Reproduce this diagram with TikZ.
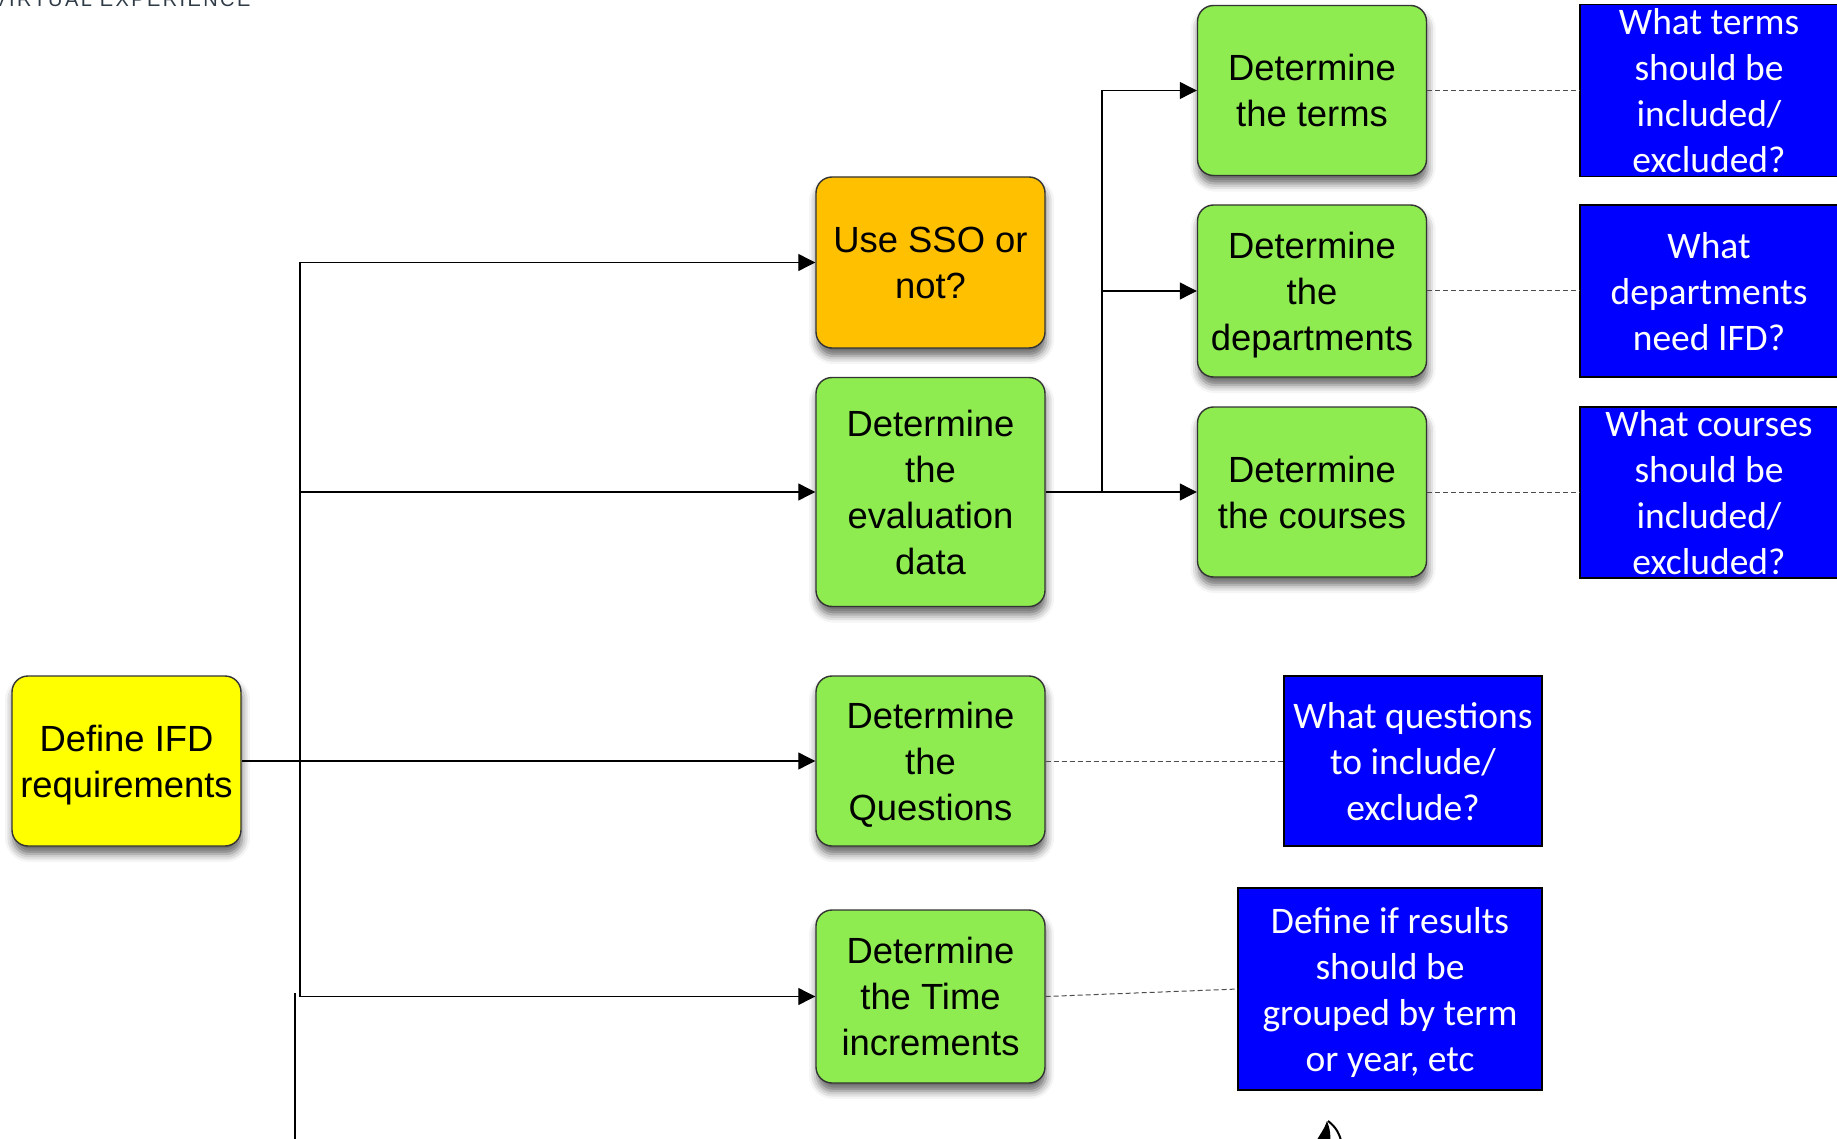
\documentclass[tikz,border=0pt]{standalone}
\usepackage{fontspec}
\setmainfont{Liberation Sans}
\newfontfamily\greenfont{Liberation Sans}
\newfontfamily\bluefont{Carlito}
\newfontfamily\topfont[LetterSpace=12]{Liberation Sans}
\usetikzlibrary{arrows.meta,shadows.blur}
\definecolor{gfill}{HTML}{8EEB50}
\definecolor{ofill}{HTML}{FFC000}
\definecolor{yfill}{HTML}{FFFF00}
\definecolor{bfill}{HTML}{0000FF}
\definecolor{edgegray}{HTML}{333333}
\definecolor{topgray}{HTML}{2E3B47}
\begin{document}
\begin{tikzpicture}[x=0.5pt,y=-0.5pt,
  rbox/.style={draw=edgegray, line width=0.7pt, rounded corners=8pt,
    minimum width=114.5pt, align=center, inner sep=0pt, text depth=0pt,
    font=\greenfont\fontsize{18.2pt}{23pt}\selectfont,
    blur shadow={shadow xshift=0.5pt, shadow yshift=-4pt, shadow blur radius=4pt, shadow opacity=60}},
  gbox/.style={rbox, fill=gfill},
  obox/.style={rbox, fill=ofill},
  ybox/.style={rbox, fill=yfill},
  qbox/.style={draw=black, line width=0.6pt, fill=bfill, text=white, align=center,
    inner sep=0pt, text depth=0pt, font=\bluefont\fontsize{18.75pt}{23pt}\selectfont},
  arr/.style={draw=black, line width=0.55pt, -{Triangle[length=8.5pt,width=8.5pt]}},
  link/.style={draw=black, line width=0.55pt},
  dlink/.style={draw=black!70, line width=0.5pt, dash pattern=on 2.5pt off 1.5pt}
]
\useasboundingbox (0,0) rectangle (1837,1139);
\begin{scope}
\clip (0,0) rectangle (1837,1139);

% header text (cut off at top, as in the reference)
\node[anchor=base west, inner sep=0pt, text=topgray, font=\topfont\fontsize{10pt}{12pt}\selectfont] (hdr) at (-7,7) {VIRTUAL EXPERIENCE};

% main nodes
\node[ybox, minimum height=85pt] (ifd) at (126.5,761) {Define IFD\\requirements};
\node[obox, minimum height=85.5pt] (sso) at (930.5,262.5) {Use SSO or\\not?};
\node[gbox, minimum height=114.5pt] (eval) at (930.5,492) {Determine\\the\\evaluation\\data};
\node[gbox, minimum height=85pt] (quest) at (930.5,761) {Determine\\the\\Questions};
\node[gbox, minimum height=86.5pt] (time) at (930.5,996.5) {Determine\\the Time\\increments};
\node[gbox, minimum height=85pt] (terms) at (1312,90.5) {Determine\\the terms};
\node[gbox, minimum height=86pt] (depts) at (1312,291) {Determine\\the\\departments};
\node[gbox, minimum height=85pt] (courses) at (1312,492) {Determine\\the courses};

% question boxes
\node[qbox, minimum width=129pt, minimum height=86pt] (qterms) at (1709,90.5) {What terms\\should be\\included/\\excluded?};
\node[qbox, minimum width=129pt, minimum height=86pt] (qdepts) at (1709,291) {What\\departments\\need IFD?};
\node[qbox, minimum width=129pt, minimum height=85.5pt] (qcourses) at (1709,492.5) {What courses\\should be\\included/\\excluded?};
\node[qbox, minimum width=129pt, minimum height=85pt] (qquest) at (1413,761) {What questions\\to include/\\exclude?};
\node[qbox, minimum width=152pt, minimum height=101pt] (qtime) at (1390,989) {Define if results\\should be\\grouped by term\\or year, etc};

% trunk connectors
\coordinate (j1) at (300,761);
\draw[link] (ifd.east) -- (j1);
\draw[arr] (j1) |- (sso);
\draw[arr] (j1) |- (eval);
\draw[arr] (j1) -- (quest);
\draw[arr] (j1) |- (time);

% branch connectors
\coordinate (j2) at (1102,492);
\draw[arr] (eval) -- (courses);
\draw[arr] (j2) |- (terms);
\draw[arr] (j2) |- (depts);

% dashed links
\draw[dlink] (terms.east) -- (qterms.west |- terms.east);
\draw[dlink] (depts.east) -- (qdepts.west |- depts.east);
\draw[dlink] (courses.east) -- (qcourses.west |- courses.east);
\draw[dlink] (quest.east) -- (qquest.west |- quest.east);
\coordinate (tl) at (1238,989);
\draw[dlink] (time.east) -- (tl);

% stray line at bottom left
\coordinate (s1) at (295,993);
\coordinate (s2) at (295,1145);
\draw[draw=black, line width=0.7pt] (s1) -- (s2);

% partial logo at bottom
\fill[black] (1314,1145) .. controls (1320,1134) and (1325,1128) .. (1327,1121)
  .. controls (1330,1128) and (1331,1136) .. (1330,1145) -- cycle;
\draw[black, line width=1pt] (1328,1121) .. controls (1336,1127) and (1340,1134) .. (1342,1145);
\end{scope}
\end{tikzpicture}
\end{document}
